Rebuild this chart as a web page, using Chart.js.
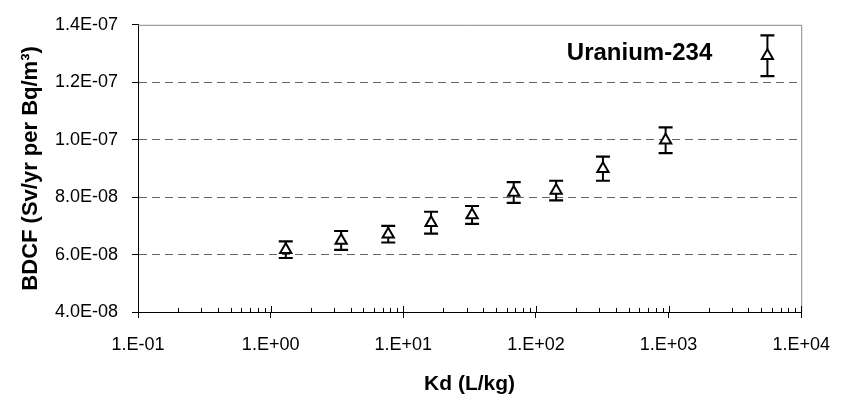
<!DOCTYPE html>
<html lang="en">
<head>
<meta charset="UTF-8">
<title>Uranium-234 BDCF vs Kd</title>
<style>
  body { margin: 0; background: #fff; }
  #wrap { width: 846px; height: 400px; }
</style>
</head>
<body>
<div id="wrap"><canvas id="bdcfChart" width="846" height="400"></canvas></div>

<script src="https://cdn.jsdelivr.net/npm/chart.js"></script>
<script>
  // values
  const kd = [1.3, 3.4, 7.7, 16.2, 33, 68, 142, 320, 950, 5560];
  const bdcf = [6.17e-8, 6.49e-8, 6.71e-8, 7.11e-8, 7.38e-8, 8.16e-8, 8.23e-8, 8.99e-8, 9.98e-8, 1.292e-7];
  const bdcfErr = [2.9e-9, 3.3e-9, 2.9e-9, 3.8e-9, 3.1e-9, 3.6e-9, 3.4e-9, 4.2e-9, 4.5e-9, 7.1e-9];

  const xMajorTicks = [0.1, 1, 10, 100, 1000, 10000];
  const yTicks = [4e-8, 6e-8, 8e-8, 1.0e-7, 1.2e-7, 1.4e-7];
  const nuclide = 'Uranium-234';

  const FONT = "'Liberation Sans', Arial, sans-serif";

  // 1..9 minor ticks inside each decade
  const xTickValues = [];
  xMajorTicks.forEach((d, i) => {
    xTickValues.push(d);
    if (i < xMajorTicks.length - 1) {
      for (let m = 2; m <= 9; m++) xTickValues.push(d * m);
    }
  });

  function isMajor(v) {
    const l = Math.log10(v);
    return Math.abs(l - Math.round(l)) < 1e-9;
  }

  function expPart(n) {
    return (n < 0 ? '-' : '+') + String(Math.abs(n)).padStart(2, '0');
  }

  function fmtX(v) {
    return '1.E' + expPart(Math.round(Math.log10(v)));
  }

  function fmtY(v) {
    const parts = v.toExponential(1).split('e');
    return parts[0] + 'E' + expPart(parseInt(parts[1], 10));
  }

  // error bars, drawn under the triangles
  const errorBars = {
    id: 'errorBars',
    beforeDatasetsDraw(chart) {
      const ctx = chart.ctx;
      const xs = chart.scales.x, ys = chart.scales.y;
      ctx.save();
      ctx.strokeStyle = '#000';
      kd.forEach((k, i) => {
        const px = xs.getPixelForValue(k);
        const top = ys.getPixelForValue(bdcf[i] + bdcfErr[i]);
        const bot = ys.getPixelForValue(bdcf[i] - bdcfErr[i]);
        ctx.lineWidth = 2;
        ctx.beginPath();
        ctx.moveTo(px, top);
        ctx.lineTo(px, bot);
        ctx.stroke();
        ctx.lineWidth = 2.2;
        ctx.beginPath();
        ctx.moveTo(px - 7, top);
        ctx.lineTo(px + 7, top);
        ctx.moveTo(px - 7, bot);
        ctx.lineTo(px + 7, bot);
        ctx.stroke();
      });
      ctx.restore();
    }
  };

  // top/right frame, inner x ticks and the nuclide label
  const frame = {
    id: 'frame',
    afterDraw(chart) {
      const ctx = chart.ctx;
      const a = chart.chartArea;
      const xs = chart.scales.x;
      ctx.save();
      ctx.strokeStyle = '#888';
      ctx.lineWidth = 1;
      ctx.beginPath();
      ctx.moveTo(a.left, a.top + 0.5);
      ctx.lineTo(a.right + 0.5, a.top + 0.5);
      ctx.lineTo(a.right + 0.5, a.bottom);
      ctx.stroke();

      ctx.strokeStyle = '#000';
      ctx.beginPath();
      xs.ticks.forEach(t => {
        const px = Math.round(xs.getPixelForValue(t.value)) + 0.5;
        const len = isMajor(t.value) ? 6 : 4;
        ctx.moveTo(px, a.bottom);
        ctx.lineTo(px, a.bottom - len);
      });
      ctx.stroke();

      ctx.fillStyle = '#000';
      ctx.font = 'bold 24px ' + FONT;
      ctx.textAlign = 'right';
      ctx.textBaseline = 'middle';
      ctx.fillText(nuclide, a.right - 89, a.top + 29);
      ctx.restore();
    }
  };

  const ctx = document.getElementById('bdcfChart').getContext('2d');
  const chart = new Chart(ctx, {
    type: 'scatter',
    data: {
      datasets: [{
        label: nuclide,
        data: kd.map((x, i) => ({ x: x, y: bdcf[i] })),
        pointStyle: 'triangle',
        pointRadius: 6.5,
        pointBorderWidth: 2,
        borderColor: '#000',
        backgroundColor: '#fff',
        showLine: false
      }]
    },
    options: {
      responsive: false,
      animation: false,
      layout: { padding: { top: 24, right: 36, left: 0, bottom: 0 } },
      plugins: {
        legend: { display: false },
        tooltip: { enabled: false }
      },
      scales: {
        x: {
          type: 'logarithmic',
          min: xMajorTicks[0],
          max: xMajorTicks[xMajorTicks.length - 1],
          afterBuildTicks: s => { s.ticks = xTickValues.map(v => ({ value: v })); },
          afterFit: s => { s.height = 88; },
          ticks: {
            autoSkip: false,
            maxRotation: 0,
            padding: 16,
            color: '#000',
            font: { family: FONT, size: 18 },
            callback: v => isMajor(v) ? fmtX(v) : ''
          },
          grid: {
            drawOnChartArea: false,
            tickLength: 6,
            tickColor: c => (c.tick && isMajor(c.tick.value)) ? '#000' : 'rgba(0,0,0,0)'
          },
          border: { color: '#000', width: 1 },
          title: {
            display: true,
            text: 'Kd (L/kg)',
            color: '#000',
            font: { family: FONT, size: 21, weight: 'bold' },
            padding: { top: 0, bottom: 3 }
          }
        },
        y: {
          min: yTicks[0],
          max: yTicks[yTicks.length - 1],
          afterBuildTicks: s => { s.ticks = yTicks.map(v => ({ value: v })); },
          afterFit: s => { s.width = 138; },
          ticks: {
            padding: 14,
            color: '#000',
            font: { family: FONT, size: 18 },
            callback: v => fmtY(v)
          },
          grid: {
            color: c => {
              if (!c.tick) return '#666';
              const v = c.tick.value;
              return (v === yTicks[0] || v === yTicks[yTicks.length - 1]) ? 'rgba(0,0,0,0)' : '#666';
            },
            tickColor: '#000',
            tickLength: 6,
            lineWidth: 1
          },
          border: { color: '#000', width: 1, dash: [8, 5] },
          title: {
            display: true,
            text: 'BDCF (Sv/yr per Bq/m³)',
            color: '#000',
            font: { family: FONT, size: 22, weight: 'bold' },
            padding: { top: 18, bottom: 0 }
          }
        }
      }
    },
    plugins: [errorBars, frame]
  });
</script>
</body>
</html>
